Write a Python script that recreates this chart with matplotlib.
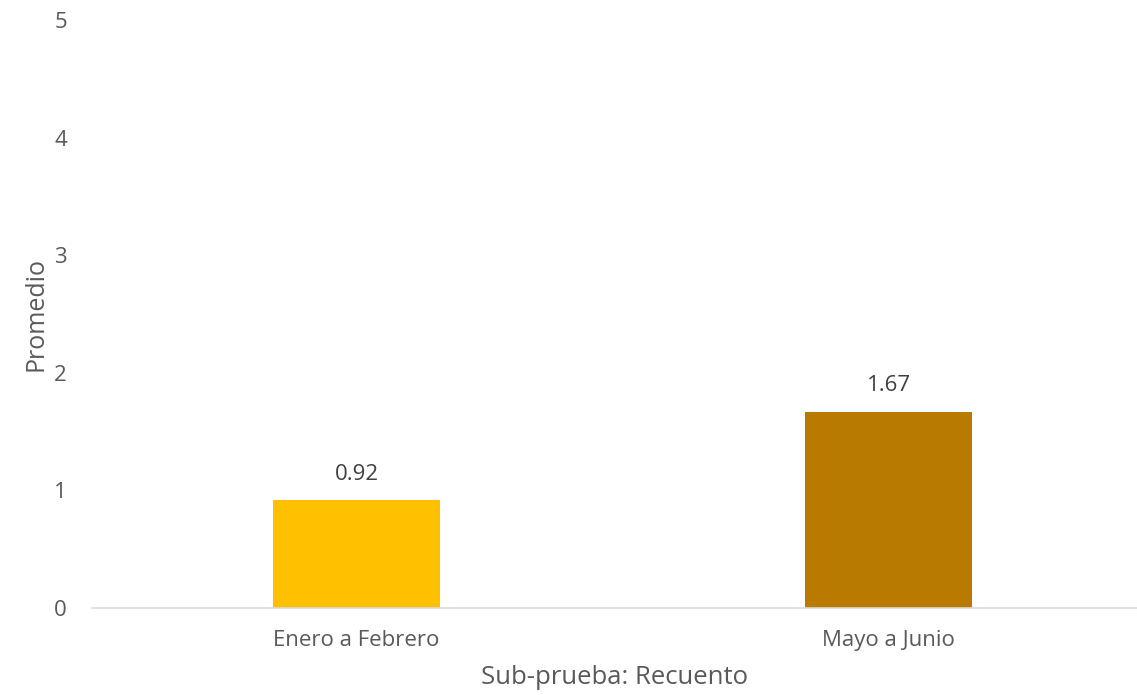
import numpy as np
import matplotlib.pyplot as plt

plt.rcParams['font.family'] = ['Open Sans', 'DejaVu Sans']

categories = ['Enero a Febrero', 'Mayo a Junio']
values = [0.92, 1.67]
colors = ['#FFC000', '#B87B00']
yticks = [0, 1, 2, 3, 4, 5]

fig = plt.figure(figsize=(11.37, 6.95), dpi=100)
ax = fig.add_axes([92/1137, 1-608/695, 1-92/1137, (608-20)/695])

x = np.arange(len(categories))
bars = ax.bar(x, values, width=0.314, color=colors)
for b, v in zip(bars, values):
    ax.text(b.get_x() + b.get_width()/2, v + 0.13, '%.2f' % v,
            ha='center', va='bottom', fontsize=16, color='#404040')

ax.set_xlim(-0.497, 1.467)
ax.set_ylim(0, 5)
ax.set_yticks(yticks)
ax.set_xticks(x)
ax.set_xticklabels(categories)
ax.tick_params(axis='both', length=0, labelsize=16, labelcolor='#595959')
ax.tick_params(axis='y', pad=18)
ax.tick_params(axis='x', pad=16)

for s in ['top', 'right', 'left']:
    ax.spines[s].set_visible(False)
ax.spines['bottom'].set_color('#d9d9d9')
ax.spines['bottom'].set_linewidth(1.2)

ax.set_xlabel('Sub-prueba: Recuento', fontsize=18.5, color='#595959', labelpad=10)
ax.set_ylabel('Promedio', fontsize=18, color='#595959', labelpad=4)

plt.savefig('out.png', dpi=100)
